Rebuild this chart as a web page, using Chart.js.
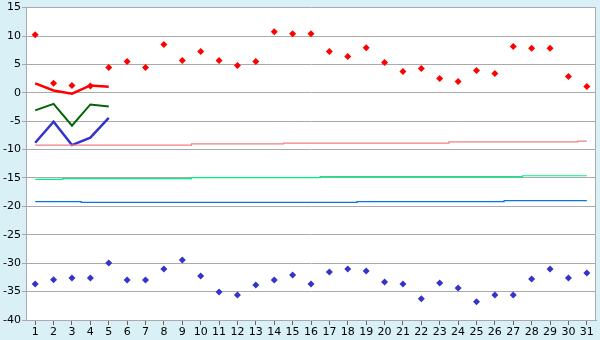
<!DOCTYPE html>
<html>
<head>
<meta charset="utf-8">
<script src="https://cdn.jsdelivr.net/npm/chart.js@4/dist/chart.umd.min.js"></script>
<style>
html,body{margin:0;padding:0;background:#d9f0f7;}
#wrap{width:600px;height:340px;position:relative;}
</style>
</head>
<body>
<div id="wrap"><canvas id="c" width="600" height="340"></canvas></div>
<script>
const days = ['1','2','3','4','5','6','7','8','9','10','11','12','13','14','15','16','17','18','19','20','21','22','23','24','25','26','27','28','29','30','31'];
const recordHigh = [10.2,1.7,1.3,1.2,4.45,5.5,4.45,8.5,5.7,7.25,5.7,4.8,5.5,10.75,10.4,10.4,7.25,6.4,7.95,5.33,3.75,4.28,2.53,2.0,3.93,3.4,8.13,7.83,7.83,2.88,1.13];
const recordLow = [-33.65,-32.9,-32.6,-32.6,-29.98,-32.95,-32.95,-31.03,-29.45,-32.25,-35.05,-35.58,-33.83,-32.95,-32.08,-33.65,-31.55,-31.03,-31.38,-33.3,-33.65,-36.28,-33.48,-34.35,-36.8,-35.58,-35.58,-32.78,-31.03,-32.6,-31.73];
const normalHigh = [-9.2,-9.2,-9.2,-9.2,-9.2,-9.2,-9.2,-9.2,-9.2,-9.0,-9.0,-9.0,-9.0,-9.0,-8.85,-8.85,-8.85,-8.85,-8.85,-8.85,-8.85,-8.85,-8.85,-8.65,-8.65,-8.65,-8.65,-8.65,-8.65,-8.65,-8.5];
const normalMean = [-15.25,-15.25,-15.1,-15.1,-15.1,-15.1,-15.1,-15.1,-15.1,-14.95,-14.95,-14.95,-14.95,-14.95,-14.95,-14.95,-14.75,-14.75,-14.75,-14.75,-14.75,-14.75,-14.75,-14.75,-14.75,-14.75,-14.75,-14.6,-14.6,-14.6,-14.6];
const normalLow = [-19.15,-19.15,-19.15,-19.3,-19.3,-19.3,-19.3,-19.3,-19.3,-19.3,-19.3,-19.3,-19.3,-19.3,-19.3,-19.3,-19.3,-19.3,-19.15,-19.15,-19.15,-19.15,-19.15,-19.15,-19.15,-19.15,-19.0,-19.0,-19.0,-19.0,-19.0];
const dailyMax = [1.65,0.4,-0.15,1.3,1.05];
const dailyMean = [-3.1,-1.95,-5.8,-2.05,-2.4];
const dailyMin = [-8.8,-5.1,-9.2,-7.9,-4.4];
const yTicks = {min:-40, max:15, step:5};

const bgPlugin = {
  id:'bg',
  beforeDraw(chart){
    const {ctx, chartArea:a} = chart;
    ctx.save();
    ctx.fillStyle = '#d9f0f7';
    ctx.fillRect(0,0,chart.width,chart.height);
    ctx.fillStyle = '#ffffff';
    ctx.fillRect(a.left,a.top,a.right-a.left,a.bottom-a.top);
    ctx.restore();
  },
  afterDraw(chart){
    const {ctx, chartArea:a} = chart;
    ctx.save();
    ctx.strokeStyle = '#aaaaaa';
    ctx.lineWidth = 1;
    ctx.beginPath();
    ctx.moveTo(Math.round(a.right)-0.5, a.top);
    ctx.lineTo(Math.round(a.right)-0.5, a.bottom);
    ctx.stroke();
    ctx.restore();
  }
};

const lineDs = (label, data, color, width, stepped) => ({
  type:'line', label, data, borderColor:color, backgroundColor:color,
  borderWidth:width, pointRadius:0, pointHoverRadius:0, fill:false,
  stepped: stepped ? 'middle' : false, tension:0, spanGaps:false
});
const pointDs = (label, data, color) => ({
  type:'line', label, data, showLine:false, borderColor:color, backgroundColor:color,
  pointStyle:'rectRot', pointRadius:3.5, pointBorderWidth:0, pointHoverRadius:3.5
});

new Chart(document.getElementById('c'), {
  type:'line',
  data:{
    labels: days,
    datasets:[
      lineDs('normalHigh', normalHigh, '#f08080', 1.2, true),
      lineDs('normalMean', normalMean, '#00f080', 1.2, true),
      lineDs('normalLow', normalLow, '#0a74e0', 1.2, true),
      lineDs('dailyMin', dailyMin, '#3434cc', 2.5, false),
      lineDs('dailyMean', dailyMean, '#006400', 2, false),
      lineDs('dailyMax', dailyMax, '#ff0000', 2.5, false),
      pointDs('recordHigh', recordHigh, '#ff0000'),
      pointDs('recordLow', recordLow, '#3434cc')
    ]
  },
  plugins:[bgPlugin],
  options:{
    responsive:false,
    animation:false,
    events:[],
    layout:{padding:{top:5,right:4,left:0,bottom:0}},
    plugins:{legend:{display:false}, tooltip:{enabled:false}},
    scales:{
      x:{
        offset:true,
        grid:{display:true, drawOnChartArea:false, drawTicks:true, tickLength:5, color:'#666666', offset:false},
        border:{display:true, color:'#aaaaaa'},
        ticks:{color:'#000000', font:{family:'DejaVu Sans', size:11}, padding:1, maxRotation:0, autoSkip:false},
        afterFit(s){ s.height = 20; }
      },
      y:{
        min:yTicks.min, max:yTicks.max,
        grid:{color:'#aaaaaa', tickLength:4, drawTicks:true},
        border:{display:true, color:'#aaaaaa'},
        ticks:{stepSize:yTicks.step, color:'#000000', font:{family:'DejaVu Sans', size:11}, padding:1},
        afterFit(s){ s.width = 26; }
      }
    }
  }
});
</script>
</body>
</html>
